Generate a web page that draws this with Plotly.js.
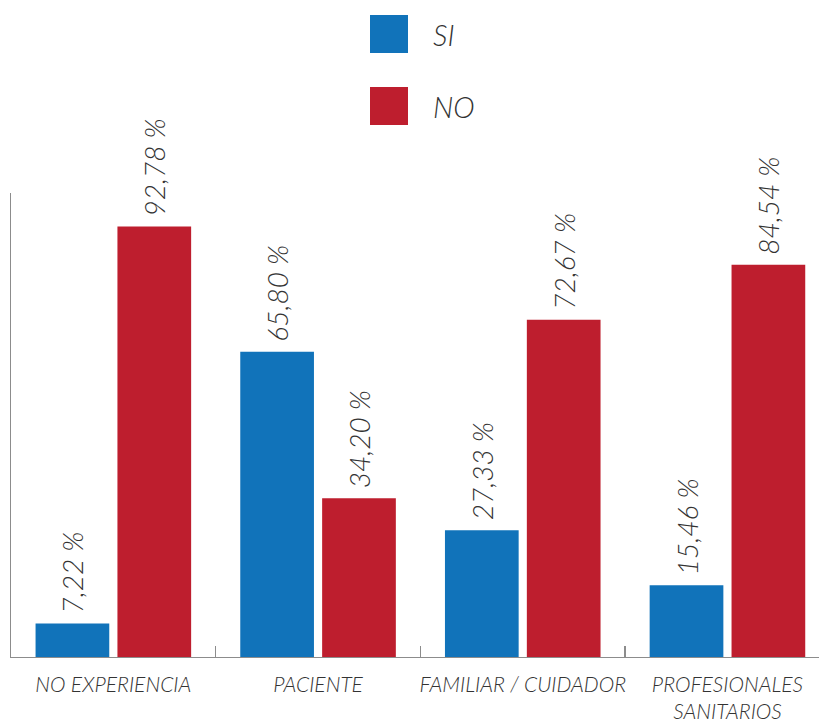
<!DOCTYPE html>
<html>
<head>
<meta charset="utf-8">
<script src="https://cdn.plot.ly/plotly-3.0.1.min.js"></script>
<style>
  html, body { margin: 0; padding: 0; background: #fff; }
  #chart { width: 819px; height: 724px; }
</style>
</head>
<body>
<div id="chart"></div>
<script>
// Categories and percentages per answer
const categories = ['NO EXPERIENCIA', 'PACIENTE', 'FAMILIAR / CUIDADOR', 'PROFESIONALES<br>SANITARIOS'];
const siValues = [7.22, 65.80, 27.33, 15.46];
const noValues = [92.78, 34.20, 72.67, 84.54];
const seriesNames = ['SI', 'NO'];

const BLUE = '#1173ba';
const RED = '#be1e2e';
const TEXT = '#333333';
const FONT = 'Lato, "Noto Sans", sans-serif';

// "92,78 %" style labels (Spanish decimal comma)
const fmt = v => v.toFixed(2).replace('.', ',') + ' %';

const valueFont = { family: FONT, size: 28, color: TEXT, style: 'italic', weight: 300 };

function barTrace(name, values, color) {
  return {
    type: 'bar',
    name: name,
    x: categories,
    y: values,
    marker: { color: color },
    text: values.map(fmt),
    texttemplate: '\u00a0%{text}',
    textposition: 'outside',
    textangle: -90,
    textfont: valueFont,
    constraintext: 'none',
    cliponaxis: false,
    hoverinfo: 'x+y',
    showlegend: false
  };
}

const data = [
  barTrace(seriesNames[0], siValues, BLUE),
  barTrace(seriesNames[1], noValues, RED)
];

// Plot area geometry (pixels) used to place the legend in paper units
const W = 819, H = 724;
const margin = { l: 11, r: 0, t: 193, b: 67 };
const pw = W - margin.l - margin.r;
const ph = H - margin.t - margin.b;
const px = x => (x - margin.l) / pw;
const py = y => (H - margin.b - y) / ph;

const legendItems = [
  { label: seriesNames[0], color: BLUE, top: 15 },
  { label: seriesNames[1], color: RED, top: 87 }
];

const shapes = legendItems.map(it => ({
  type: 'rect', xref: 'paper', yref: 'paper',
  x0: px(370), x1: px(408), y0: py(it.top + 38), y1: py(it.top),
  fillcolor: it.color, line: { width: 0 }
}));

const annotations = legendItems.map(it => ({
  xref: 'paper', yref: 'paper',
  x: px(431), y: py(it.top + 19),
  xanchor: 'left', yanchor: 'middle',
  text: it.label, showarrow: false,
  font: { family: FONT, size: 29, color: TEXT, style: 'italic', weight: 300 }
}));

const layout = {
  width: W, height: H,
  margin: margin,
  paper_bgcolor: '#fff',
  plot_bgcolor: '#fff',
  barmode: 'group',
  bargap: 0.2,
  bargroupgap: 0.1,
  showlegend: false,
  xaxis: {
    type: 'category',
    range: [-0.5, -0.5 + pw / 204.7],
    showline: true, linecolor: '#8c8c8c', linewidth: 1.3,
    ticks: 'inside', tickson: 'boundaries', ticklen: 11, tickcolor: '#8c8c8c', tickwidth: 1.3,
    showgrid: false, zeroline: false,
    tickangle: 0,
    ticklabelstandoff: 8,
    tickfont: { family: FONT, size: 21, color: TEXT, style: 'italic', weight: 300 },
    fixedrange: true
  },
  yaxis: {
    range: [0, 100],
    showline: true, linecolor: '#8c8c8c', linewidth: 1.3,
    showticklabels: false, ticks: '', showgrid: false, zeroline: false,
    fixedrange: true
  },
  shapes: shapes,
  annotations: annotations
};

Plotly.newPlot('chart', data, layout, { displayModeBar: false, staticPlot: true });
</script>
</body>
</html>
